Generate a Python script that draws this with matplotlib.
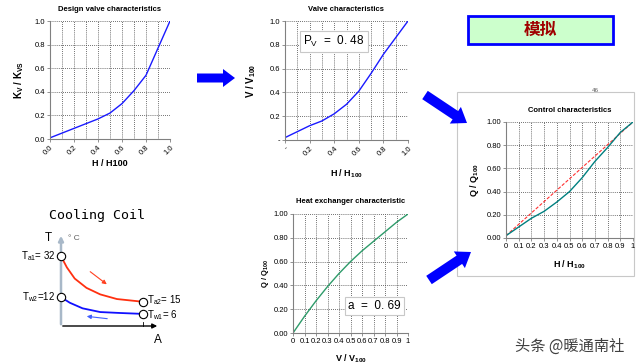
import matplotlib
matplotlib.use('Agg')
import matplotlib.pyplot as plt
import numpy as np
from matplotlib.patches import FancyArrow, Rectangle

plt.rcParams['font.family'] = ['Liberation Sans', 'Noto Sans CJK SC', 'DejaVu Sans']
plt.rcParams['mathtext.fontset'] = 'custom'
plt.rcParams['mathtext.rm'] = 'Liberation Sans'
plt.rcParams['mathtext.bf'] = 'Liberation Sans:bold'
plt.rcParams['mathtext.it'] = 'Liberation Sans:italic'

# ---- data ----
h_stroke = [0.0, 0.1, 0.2, 0.3, 0.4, 0.5, 0.6, 0.7, 0.8, 0.9, 1.0]
kv_design = [0.01, 0.05, 0.09, 0.13, 0.17, 0.22, 0.30, 0.41, 0.54, 0.77, 1.0]
v_valve = [0.02, 0.07, 0.12, 0.16, 0.22, 0.30, 0.41, 0.56, 0.72, 0.86, 1.0]
v_flow = [0.0, 0.1, 0.2, 0.3, 0.4, 0.5, 0.6, 0.7, 0.8, 0.9, 1.0]
q_hx = [0.0, 0.14, 0.27, 0.39, 0.50, 0.60, 0.69, 0.77, 0.85, 0.93, 1.0]
q_ctrl = [0.02, 0.095, 0.17, 0.23, 0.31, 0.40, 0.52, 0.66, 0.78, 0.91, 1.0]
lin_x = [0.0, 1.0]
lin_q = [0.02, 1.0]
pv = 0.48
a_auth = 0.69

# cooling coil sketch (schematic, normalised coil length / height)
coil_x_air = [0.0, 0.06, 0.14, 0.26, 0.40, 0.57, 0.84]
coil_air = [0.75, 0.63, 0.51, 0.41, 0.34, 0.29, 0.26]
coil_x_water = [0.0, 0.09, 0.22, 0.40, 0.60, 0.84]
coil_water = [0.31, 0.25, 0.19, 0.15, 0.14, 0.13]
t_air_in, t_water_out, t_air_out, t_water_in = 32, 12, 15, 6

W, H = 640, 364
fig = plt.figure(figsize=(6.4, 3.64), dpi=100)


def px_axes(l, t, r, b):
    return fig.add_axes([l / W, 1 - b / H, (r - l) / W, (b - t) / H])


bg = fig.add_axes([0, 0, 1, 1])
bg.set_xlim(0, W)
bg.set_ylim(H, 0)
bg.axis('off')

grid_kw = dict(linestyle=(0, (1, 1.5)), color='#404040', lw=0.6)


def style_chart(ax, title, pad):
    ax.set_xlim(0, 1)
    ax.set_ylim(0, 1)
    ax.set_facecolor('none')
    for s in ['top', 'right']:
        ax.spines[s].set_visible(False)
    for s in ['left', 'bottom']:
        ax.spines[s].set_color('#808080')
        ax.spines[s].set_linewidth(0.8)
    ax.tick_params(which='both', labelsize=5.5, length=2, width=0.6,
                   color='#808080', pad=1.5)
    ax.tick_params(which='minor', length=0)
    ax.set_axisbelow(True)
    ax.set_title(title, fontsize=5.5, fontweight='bold', pad=pad)


# ---- panel 1: design valve characteristics ----
ax1 = px_axes(50, 21, 170, 139)
style_chart(ax1, 'Design valve characteristics', 7)
ax1.plot(h_stroke, kv_design, color='#1a1aff', lw=1)
ax1.set_xticks(np.arange(0, 1.01, 0.2))
ax1.set_xticks(np.arange(0, 1.01, 0.1), minor=True)
ax1.set_xticklabels(['0.0', '0.2', '0.4', '0.6', '0.8', '1.0'], rotation=45,
                    ha='right', va='top', rotation_mode='anchor')
ax1.set_yticks(np.arange(0, 1.01, 0.2))
ax1.set_yticklabels(['0.0', '0.2', '0.4', '0.6', '0.8', '1.0'])
ax1.grid(True, which='both', axis='x', **grid_kw)
ax1.grid(True, which='major', axis='y', **grid_kw)
ax1.set_xlabel('H / H100', fontsize=6.5, fontweight='bold')
ax1.set_ylabel(r'$\mathbf{K_V\ /\ K_{VS}}$', fontsize=7)
ax1.xaxis.set_label_coords(0.5, -0.17)
ax1.yaxis.set_label_coords(-0.2, 0.5)

# ---- panel 2: valve characteristics ----
ax2 = px_axes(285, 21, 408, 140)
style_chart(ax2, 'Valve characteristics', 7)
ax2.plot(h_stroke, v_valve, color='#1a1aff', lw=1)
ax2.set_xticks(np.arange(0, 1.01, 0.2))
ax2.set_xticks(np.arange(0, 1.01, 0.1), minor=True)
ax2.set_xticklabels(['-', '0.2', '0.4', '0.6', '0.8', '1.0'], rotation=45,
                    ha='right', va='top', rotation_mode='anchor')
ax2.set_yticks(np.arange(0, 1.01, 0.2))
ax2.set_yticklabels(['-', '0.2', '0.4', '0.6', '0.8', '1.0'])
ax2.grid(True, which='both', axis='x', **grid_kw)
ax2.grid(True, which='major', axis='y', **grid_kw)
ax2.set_xlabel(r'$\mathbf{H\ /\ H_{100}}$', fontsize=6.5)
ax2.set_ylabel(r'$\mathbf{V\ /\ V_{100}}$', fontsize=7)
ax2.xaxis.set_label_coords(0.5, -0.227)
ax2.yaxis.set_label_coords(-0.22, 0.5)
ax2.text(0.15, 0.83, r'$\mathrm{P_V}$  =  0. ' + f'{pv:.2f}'[2:], transform=ax2.transAxes,
         fontsize=8.5, va='center', ha='left',
         bbox=dict(boxstyle='square,pad=0.25', fc='white', ec='#c8c8c8', lw=0.8))

# ---- panel 3: heat exchanger characteristic ----
ax3 = px_axes(293, 214, 408, 333)
style_chart(ax3, 'Heat exchanger characteristic', 8)
ax3.plot(v_flow, q_hx, color='#2e9b6a', lw=1)
ax3.set_xticks(np.arange(0, 1.01, 0.1))
ax3.set_xticklabels(['0', '0.1', '0.2', '0.3', '0.4', '0.5', '0.6', '0.7', '0.8', '0.9', '1'])
ax3.set_yticks(np.arange(0, 1.01, 0.2))
ax3.set_yticklabels(['0.00', '0.20', '0.40', '0.60', '0.80', '1.00'])
ax3.grid(True, which='major', **grid_kw)
ax3.set_xlabel(r'$\mathbf{V\ /\ V_{100}}$', fontsize=6.5)
ax3.set_ylabel(r'$\mathbf{Q\ /\ Q_{100}}$', fontsize=5.5)
ax3.xaxis.set_label_coords(0.5, -0.168)
ax3.yaxis.set_label_coords(-0.19, 0.5)
ax3.text(0.48, 0.23, 'a  =  0. ' + f'{a_auth:.2f}'[2:], transform=ax3.transAxes,
         fontsize=8.5, va='center', ha='left',
         bbox=dict(boxstyle='square,pad=0.25', fc='white', ec='#c8c8c8', lw=0.8))

# ---- panel 4: control characteristics ----
bg.add_patch(Rectangle((457, 92), 177, 184, fill=False, ec='#c8c8c8', lw=0.8))
ax4 = px_axes(506, 122, 633, 238)
style_chart(ax4, 'Control characteristics', 7)
ax4.plot(lin_x, lin_q, color='#ff3030', lw=0.8, ls=(0, (3, 1.5)))
ax4.plot(h_stroke, q_ctrl, color='#008080', lw=1)
ax4.set_xticks(np.arange(0, 1.01, 0.1))
ax4.set_xticklabels(['0', '0.1', '0.2', '0.3', '0.4', '0.5', '0.6', '0.7', '0.8', '0.9', '1'])
ax4.set_yticks(np.arange(0, 1.01, 0.2))
ax4.set_yticklabels(['0.00', '0.20', '0.40', '0.60', '0.80', '1.00'])
ax4.grid(True, which='major', **grid_kw)
ax4.set_xlabel(r'$\mathbf{H\ /\ H_{100}}$', fontsize=6.5)
ax4.set_ylabel(r'$\mathbf{Q\ /\ Q_{100}}$', fontsize=6.5)
ax4.xaxis.set_label_coords(0.5, -0.18)
ax4.yaxis.set_label_coords(-0.197, 0.5)
bg.text(595, 90, '46', fontsize=4.5, color='#606060', ha='center', va='center')

# ---- title box ----
bg.add_patch(Rectangle((468, 16), 145, 28, fc='#ccffcc', ec='#0000ff', lw=2))
bg.text(540.5, 30, '模拟', family=['Noto Sans CJK SC'], fontsize=12,
        fontweight='bold', color='#a00000', ha='center', va='center')

# ---- big blue arrows ----
arrow_kw = dict(length_includes_head=True, color='#0000ff', lw=0)
bg.add_patch(FancyArrow(197, 78, 38, 0, width=9, head_width=18, head_length=12, **arrow_kw))
bg.add_patch(FancyArrow(425, 95, 42, 28, width=10, head_width=20, head_length=14, **arrow_kw))
bg.add_patch(FancyArrow(429, 280, 42, -28, width=10, head_width=20, head_length=14, **arrow_kw))

# ---- cooling coil sketch ----
bg.text(97, 215, 'Cooling Coil', family='DejaVu Sans Mono', fontsize=9.5,
        ha='center', va='center')
bg.annotate('', xy=(61, 233), xytext=(61, 327),
            arrowprops=dict(arrowstyle='-|>', color='#a8b8c8', lw=1.8, mutation_scale=7))
bg.annotate('', xy=(160, 326), xytext=(60, 326),
            arrowprops=dict(arrowstyle='-|>', color='black', lw=1, mutation_scale=7))
bg.plot([143, 143], [322, 326], color='black', lw=0.6)
bg.text(48, 238, 'T', fontsize=8.5, ha='center', va='center')
bg.text(74, 238, '° C', fontsize=6, color='#606060', ha='center', va='center')
bg.text(158, 340, 'A', fontsize=8.5, ha='center', va='center')

coil = px_axes(61, 233, 159, 326)
coil.set_xlim(0, 1)
coil.set_ylim(0, 1)
coil.axis('off')
coil.plot(coil_x_air, coil_air, color='#ff3010', lw=1.3, clip_on=False)
coil.plot(coil_x_water, coil_water, color='#1010ff', lw=1.3, clip_on=False)
coil.plot([coil_x_air[0], coil_x_water[0], coil_x_air[-1], coil_x_water[-1]],
          [coil_air[0], coil_water[0], coil_air[-1], coil_water[-1]],
          'o', mfc='white', mec='black', ms=6, mew=0.8, clip_on=False, zorder=5)
lab_kw = dict(textcoords='offset points', va='center', fontsize=7)
coil.annotate(r'$\mathrm{T_{a1}}$= ' + str(t_air_in), (0, coil_air[0]),
              xytext=(-4, 0), ha='right', **lab_kw)
coil.annotate(r'$\mathrm{T_{w2}}$=' + str(t_water_out), (0, coil_water[0]),
              xytext=(-4, 0), ha='right', **lab_kw)
coil.annotate(r'$\mathrm{T_{a2}}$= ' + str(t_air_out), (coil_x_air[-1], coil_air[-1]),
              xytext=(3, 1), ha='left', **lab_kw)
coil.annotate(r'$\mathrm{T_{w1}}$= ' + str(t_water_in), (coil_x_water[-1], coil_water[-1]),
              xytext=(3, -1), ha='left', **lab_kw)
bg.annotate('', xy=(109, 286), xytext=(88, 270),
            arrowprops=dict(arrowstyle='-|>', color='#ff4020', lw=0.8, mutation_scale=6))
bg.annotate('', xy=(84, 316), xytext=(110, 319),
            arrowprops=dict(arrowstyle='-|>', color='#4060ff', lw=0.8, mutation_scale=6))

# ---- watermark ----
bg.text(570, 346, '头条 @暖通南社', family=['Noto Sans CJK SC'], fontsize=11,
        color='#404040', ha='center', va='center')

fig.savefig('out.png', dpi=100)
